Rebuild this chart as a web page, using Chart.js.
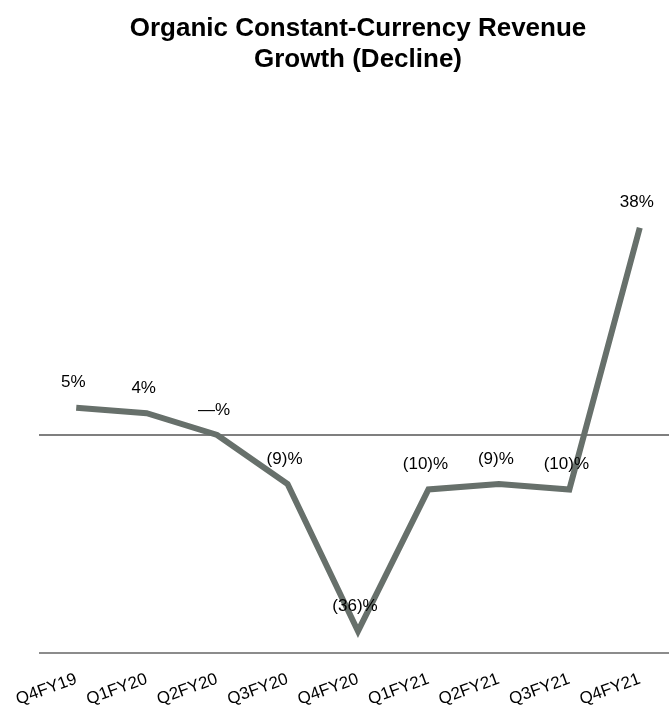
<!DOCTYPE html>
<html>
<head>
<meta charset="utf-8">
<script src="https://cdn.jsdelivr.net/npm/chart.js@4/dist/chart.umd.min.js"></script>
<style>
  html, body { margin: 0; padding: 0; background: #fff; overflow: hidden; }
  /* a bit wider than the window so the last quarter sits near the right edge */
  #wrap { width: 675px; height: 715px; }
</style>
</head>
<body>
<div id="wrap"><canvas id="growthChart"></canvas></div>
<script>
// quarters and organic constant-currency growth (%)
const quarters = ['Q4FY19', 'Q1FY20', 'Q2FY20', 'Q3FY20', 'Q4FY20', 'Q1FY21', 'Q2FY21', 'Q3FY21', 'Q4FY21'];
const growth = [5, 4, 0, -9, -36, -10, -9, -10, 38];
const growthLabels = ['5%', '4%', '—%', '(9)%', '(36)%', '(10)%', '(9)%', '(10)%', '38%'];

const yMin = -40;
const yMax = 61;

const fontFamily = "'Liberation Sans', Arial, Helvetica, sans-serif";

// writes the value text above each point
const pointLabels = {
    id: 'pointLabels',
    afterDatasetsDraw(chart) {
        const ctx = chart.ctx;
        const meta = chart.getDatasetMeta(0);
        ctx.save();
        ctx.font = '17px ' + fontFamily;
        ctx.fillStyle = '#000';
        ctx.textAlign = 'center';
        ctx.textBaseline = 'middle';
        meta.data.forEach((pt, i) => {
            ctx.fillText(growthLabels[i], pt.x - 3, pt.y - 25);
        });
        ctx.restore();
    }
};

// zero line and bottom axis line, spanning the category band
const axisLines = {
    id: 'axisLines',
    beforeDatasetsDraw(chart) {
        const { ctx } = chart;
        const x = chart.scales.x;
        const y = chart.scales.y;
        const half = (x.getPixelForValue(1) - x.getPixelForValue(0)) / 2;
        const left = x.getPixelForValue(0) - half - 2;
        const right = x.getPixelForValue(quarters.length - 1) + half;
        ctx.save();
        ctx.lineWidth = 2;
        [[0, '#7f7f7f'], [yMin, '#8c8c8c']].forEach(([v, color]) => {
            const py = Math.round(y.getPixelForValue(v));
            ctx.strokeStyle = color;
            ctx.beginPath();
            ctx.moveTo(left, py);
            ctx.lineTo(right, py);
            ctx.stroke();
        });
        ctx.restore();
    }
};

const ctx = document.getElementById('growthChart').getContext('2d');

const growthChart = new Chart(ctx, {
    type: 'line',
    data: {
        labels: quarters,
        datasets: [{
            data: growth,
            borderColor: '#67706b',
            borderWidth: 6,
            pointRadius: 0,
            tension: 0,
            borderJoinStyle: 'miter'
        }]
    },
    options: {
        responsive: true,
        maintainAspectRatio: false,
        animation: false,
        layout: {
            padding: { left: 41, right: 0, top: 13, bottom: 0 }
        },
        plugins: {
            legend: { display: false },
            tooltip: { enabled: false },
            title: {
                display: true,
                text: ['Organic Constant-Currency Revenue', 'Growth (Decline)'],
                color: '#000',
                font: { family: fontFamily, size: 26, weight: 'bold', lineHeight: 1.2 },
                padding: { top: 0, bottom: 27 }
            }
        },
        scales: {
            x: {
                offset: true,
                grid: { display: false, drawTicks: false },
                border: { display: false },
                ticks: {
                    color: '#000',
                    font: { family: fontFamily, size: 17 },
                    minRotation: 20,
                    maxRotation: 20,
                    padding: 16,
                    autoSkip: false
                },
                afterFit(scale) {
                    // fixed axis height; the rotated labels may hang into the left margin
                    scale.height = 62;
                    scale.paddingLeft = 0;
                    scale.paddingRight = 0;
                }
            },
            y: {
                min: yMin,
                max: yMax,
                grid: { display: false, drawTicks: false },
                border: { display: false },
                ticks: { display: false, stepSize: 10 },
                afterFit(scale) {
                    scale.width = 0;
                }
            }
        }
    },
    plugins: [pointLabels, axisLines]
});
</script>
</body>
</html>
